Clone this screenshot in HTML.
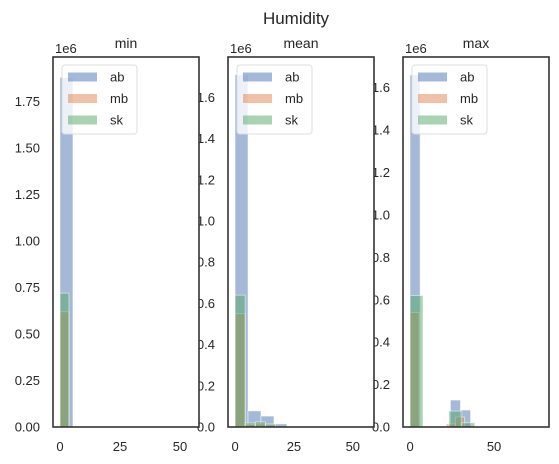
<!DOCTYPE html>
<html><head><meta charset="utf-8"><style>
body{margin:0;background:#fff}
svg{display:block;font-family:"Liberation Sans","DejaVu Sans",sans-serif}
</style></head><body>
<svg id="c" width="559" height="464"></svg>
<script>
const panelTitles = ["min","mean","max"];
const seriesNames = ["ab","mb","sk"];
const binStart = [[0,0,0],[0,0,0],[0,0,0]];
const binWidth = [[5.4,3.75,3.75],[5.5,4.3,4.3],[6,5.4,7.7]];
// counts in units of 1e6, per panel, per series
const countsMin = [[1.88,0,0,0,0,0,0,0,0,0],[0.62,0,0,0,0,0,0,0,0,0],[0.72,0,0,0,0,0,0,0,0,0]];
const countsMean = [[1.71,0.078,0.053,0.015,0,0,0,0,0,0],[0.55,0.012,0.015,0.01,0,0,0,0,0,0],[0.64,0.02,0.025,0.015,0,0,0,0,0,0]];
const countsMax = [[1.66,0,0,0,0.127,0.08,0,0,0,0],[0.54,0,0,0,0.015,0.047,0,0,0,0],[0.62,0,0,0.075,0.02,0,0,0,0,0]];
const yTicksMin = [0,0.25,0.5,0.75,1.0,1.25,1.5,1.75];
const yTicksMean = [0,0.2,0.4,0.6,0.8,1.0,1.2,1.4,1.6];
const yTicksMax = [0,0.2,0.4,0.6,0.8,1.0,1.2,1.4,1.6];
const yLabelsMin = ["0.00","0.25","0.50","0.75","1.00","1.25","1.50","1.75"];
const yLabelsMean = ["0.0","0.2","0.4","0.6","0.8","1.0","1.2","1.4","1.6"];
const yLabelsMax = yLabelsMean;
const xTicksMin = [0,25,50], xTicksMean = [0,25,50], xTicksMax = [0,50];
const yMaxes = [1.99,1.796,1.745];
const xLims = [[-2.9,57.9],[-3.0,59.0],[-4.2,82.7]];

const counts=[countsMin,countsMean,countsMax];
const yT=[yTicksMin,yTicksMean,yTicksMax], yL=[yLabelsMin,yLabelsMean,yLabelsMax];
const xT=[xTicksMin,xTicksMean,xTicksMax];
const colors=["#4c72b0","#dd8452","#55a868"];
const lefts=[53,228,403], W=146, plotTop=57, plotBottom=427;
const NS="http://www.w3.org/2000/svg";
const svg=document.getElementById('c');
function mk(t,a,p){const e=document.createElementNS(NS,t);for(const k in a)e.setAttribute(k,a[k]);(p||svg).appendChild(e);return e;}
const st=mk('text',{x:296,y:24,'text-anchor':'middle','font-size':17,fill:'#262626'});st.textContent='Humidity';


for(let p=0;p<3;p++){
  const L=lefts[p];
  const xs=v=>L+(v-xLims[p][0])/(xLims[p][1]-xLims[p][0])*W;
  const ys=v=>plotBottom-v/yMaxes[p]*(plotBottom-plotTop);
  yT[p].forEach((v,i)=>{const t=mk('text',{x:L-13,y:ys(v)+4.5,'text-anchor':'end','font-size':13,fill:'#262626'});t.textContent=yL[p][i];
    
    });
  xT[p].forEach(v=>{const t=mk('text',{x:xs(v),y:451,'text-anchor':'middle','font-size':13,fill:'#262626'});t.textContent=v;
    
    });
}
for(let p=0;p<3;p++){
  const L=lefts[p];
  const xs=v=>L+(v-xLims[p][0])/(xLims[p][1]-xLims[p][0])*W;
  const ys=v=>plotBottom-v/yMaxes[p]*(plotBottom-plotTop);
  const g=mk('g',{});
  
  
  mk('rect',{x:L,y:plotTop,width:W,height:plotBottom-plotTop,fill:'#fff'},g);
  for(let s=0;s<3;s++){
    counts[p][s].forEach((c,i)=>{
      if(c<=0)return;
      const x0=xs(binStart[p][s]+i*binWidth[p][s]), x1=xs(binStart[p][s]+(i+1)*binWidth[p][s]);
      const r=mk('rect',{x:x0,y:ys(c),width:x1-x0,height:plotBottom-ys(c),fill:colors[s],'fill-opacity':0.5,stroke:'#fff','stroke-opacity':0.5,'stroke-width':1},g);
      
      
    });
  }
  mk('rect',{x:L,y:plotTop,width:W,height:plotBottom-plotTop,fill:'none',stroke:'#333','stroke-width':1.6},g);
  const tt=mk('text',{x:L+73,y:48,'text-anchor':'middle','font-size':14,fill:'#262626'},g);tt.textContent=panelTitles[p];
  
  
  const e6=mk('text',{x:L+2,y:53,'font-size':13,fill:'#262626'},g);e6.textContent='1e6';
  
  
  const lg=mk('g',{},g);
  
  
  mk('rect',{x:L+9,y:65,width:75,height:69,rx:3,fill:'#fff','fill-opacity':0.8,stroke:'#ddd'},lg);
  seriesNames.forEach((n,i)=>{
    const cy=77+i*21.5;
    const r=mk('rect',{x:L+15,y:cy-4.5,width:29,height:9,fill:colors[i],'fill-opacity':0.5},lg);
    
    
    const t=mk('text',{x:L+57,y:cy+4.5,'font-size':13,fill:'#262626'},lg);t.textContent=n;
    
    
  });
}
</script>
</body></html>
